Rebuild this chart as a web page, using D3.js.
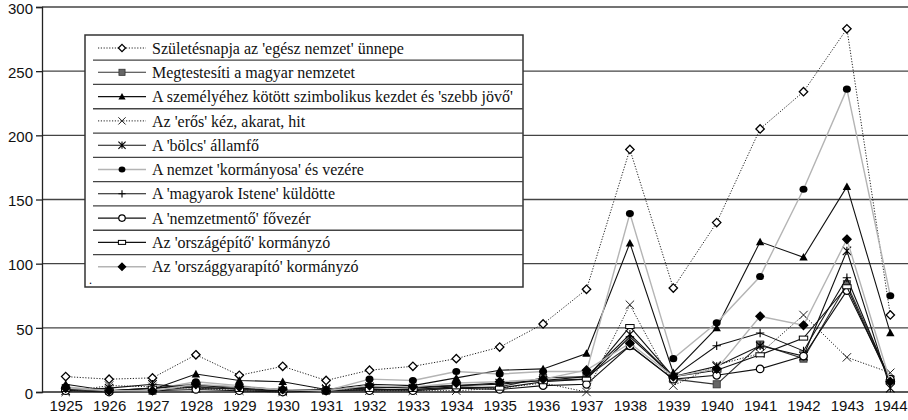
<!DOCTYPE html>
<html>
<head>
<meta charset="utf-8">
<script src="https://cdn.jsdelivr.net/npm/d3@7"></script>
<style>
  body { margin: 0; background: #fff; }
  svg { display: block; font-family: "Liberation Serif", "DejaVu Serif", serif; }
  .tick text { font-size: 15px; fill: #111; }
</style>
</head>
<body>
<svg id="chart" width="908" height="420"></svg>
<script>
// years on the x axis
const years = [1925,1926,1927,1928,1929,1930,1931,1932,1933,1934,1935,1936,1937,1938,1939,1940,1941,1942,1943,1944];
const yTicks = [0,50,100,150,200,250,300];

// values, one list per series
const szuletesnap   = [12,10,11,29,13,20,9,17,20,26,35,53,80,189,81,132,205,234,283,60];
const megtestesiti  = [3,1,1,4,2,1,1,2,2,3,4,11,12,36,10,6,37,26,84,10];
const szimbolikus   = [6,1,2,14,9,8,2,6,5,11,17,18,30,116,15,50,117,105,160,46];
const erosKez       = [0,5,4,3,1,0,3,1,1,1,3,7,0,68,5,21,30,60,27,15];
const bolcs         = [1,3,6,3,3,1,2,4,3,5,7,9,12,45,12,20,36,28,110,3];
const kormanyos     = [4,1,2,8,5,1,1,10,9,16,14,16,16,139,26,54,90,158,236,75];
const istenKuldotte = [2,1,3,5,4,2,2,3,4,5,6,9,10,43,12,36,46,32,89,8];
const nemzetmento   = [1,0,1,2,1,0,1,1,1,3,2,5,6,36,10,13,18,28,79,10];
const orszagepito   = [2,1,3,6,2,1,1,2,2,4,3,8,10,51,12,17,29,42,82,8];
const gyarapito     = [3,1,1,6,4,2,1,5,4,7,8,10,17,38,12,18,59,52,119,8];

const seriesNames = [
  "Születésnapja az 'egész nemzet' ünnepe",
  "Megtestesíti a magyar nemzetet",
  "A személyéhez kötött szimbolikus kezdet és 'szebb jövő'",
  " Az 'erős' kéz, akarat, hit",
  "A 'bölcs' államfő",
  "A nemzet 'kormányosa' és vezére",
  "A 'magyarok Istene' küldötte",
  "A 'nemzetmentő' fővezér",
  "Az 'országépítő' kormányzó",
  "Az 'országgyarapító' kormányzó"
];
const seriesValues = [szuletesnap, megtestesiti, szimbolikus, erosKez, bolcs,
  kormanyos, istenKuldotte, nemzetmento, orszagepito, gyarapito];

// line look + marker kind per series
const styles = [
  {stroke: "#222", dash: "1.2,1.6", width: 1, marker: "diamondOpen"},
  {stroke: "#333", dash: null, width: 1.1, marker: "square"},
  {stroke: "#111", dash: null, width: 1.1, marker: "triangle"},
  {stroke: "#222", dash: "1.2,1.6", width: 1, marker: "x"},
  {stroke: "#111", dash: null, width: 1.1, marker: "asterisk"},
  {stroke: "#b4b4b4", dash: null, width: 1.4, marker: "circle"},
  {stroke: "#111", dash: null, width: 1.1, marker: "plus"},
  {stroke: "#111", dash: null, width: 1.1, marker: "circleOpen"},
  {stroke: "#111", dash: null, width: 1.1, marker: "dash"},
  {stroke: "#b4b4b4", dash: null, width: 1.4, marker: "diamond"}
];

const svg = d3.select("#chart");

const x = d3.scalePoint().domain(years).range([44, 912]).padding(0.5);
const y = d3.scaleLinear().domain([0, 300]).range([392, 7]);

// gridlines
svg.append("g")
  .selectAll("line")
  .data(yTicks.slice(1))
  .enter().append("line")
  .attr("x1", 42).attr("x2", 908)
  .attr("y1", d => y(d)).attr("y2", d => y(d))
  .attr("stroke", "#444").attr("stroke-width", 1.3);

// axes
const yAxis = svg.append("g")
  .attr("transform", "translate(42,0)")
  .call(d3.axisLeft(y).tickValues(yTicks).tickSize(6).tickPadding(3));
yAxis.select(".domain").attr("stroke", "#222").attr("stroke-width", 1.3);
yAxis.selectAll(".tick line").attr("stroke", "#222").attr("stroke-width", 1.3);
yAxis.selectAll(".tick text").attr("dy", "0.42em");

const xAxis = svg.append("g")
  .attr("transform", "translate(0,392)")
  .call(d3.axisBottom(x).tickSize(0).tickPadding(8));
xAxis.select(".domain").remove();
svg.append("line")
  .attr("x1", 42).attr("x2", 908).attr("y1", y(0)).attr("y2", y(0))
  .attr("stroke", "#222").attr("stroke-width", 1.5);

// marker paths, centred on 0,0
function markerShape(g, kind, s) {
  const r = s;
  if (kind === "diamondOpen" || kind === "diamond") {
    g.append("path")
      .attr("d", `M0,${-r}L${r},0L0,${r}L${-r},0Z`)
      .attr("fill", kind === "diamond" ? "#000" : "#fff")
      .attr("stroke", "#000").attr("stroke-width", 1.3);
  } else if (kind === "square") {
    g.append("rect").attr("x", -r * 0.85).attr("y", -r * 0.85)
      .attr("width", r * 1.7).attr("height", r * 1.7)
      .attr("fill", "#666").attr("stroke", "#333").attr("stroke-width", 0.8);
  } else if (kind === "triangle") {
    g.append("path")
      .attr("d", `M0,${-r}L${r},${r * 0.8}L${-r},${r * 0.8}Z`)
      .attr("fill", "#000");
  } else if (kind === "x") {
    g.append("path")
      .attr("d", `M${-r},${-r}L${r},${r}M${-r},${r}L${r},${-r}`)
      .attr("stroke", "#222").attr("stroke-width", 1).attr("fill", "none");
  } else if (kind === "asterisk") {
    g.append("path")
      .attr("d", `M${-r},${-r}L${r},${r}M${-r},${r}L${r},${-r}M0,${-r}L0,${r}`)
      .attr("stroke", "#000").attr("stroke-width", 1.1).attr("fill", "none");
  } else if (kind === "plus") {
    g.append("path")
      .attr("d", `M${-r},0L${r},0M0,${-r}L0,${r}`)
      .attr("stroke", "#000").attr("stroke-width", 1.1).attr("fill", "none");
  } else if (kind === "circle") {
    g.append("ellipse").attr("rx", r * 0.95).attr("ry", r * 0.85).attr("fill", "#000");
  } else if (kind === "circleOpen") {
    g.append("circle").attr("r", r * 0.9)
      .attr("fill", "#fff").attr("stroke", "#000").attr("stroke-width", 1.2);
  } else if (kind === "dash") {
    g.append("rect").attr("x", -r).attr("y", -2).attr("width", 2 * r).attr("height", 4)
      .attr("fill", "#fff").attr("stroke", "#000").attr("stroke-width", 1);
  }
}

const line = d3.line()
  .x((d, i) => x(years[i]))
  .y(d => y(d));

// series, drawn in legend order
seriesValues.forEach((vals, si) => {
  const st = styles[si];
  const g = svg.append("g").attr("class", "series");
  g.append("path")
    .datum(vals)
    .attr("d", line)
    .attr("fill", "none")
    .attr("stroke", st.stroke)
    .attr("stroke-width", st.width)
    .attr("stroke-dasharray", st.dash);
  g.selectAll("g.mk")
    .data(vals)
    .enter().append("g")
    .attr("class", "mk")
    .attr("transform", (d, i) => `translate(${x(years[i])},${y(d)})`)
    .each(function() { markerShape(d3.select(this), st.marker, 4.2); });
});

// legend box
const legend = svg.append("g");
legend.append("rect")
  .attr("x", 85).attr("y", 35).attr("width", 438).attr("height", 252)
  .attr("fill", "#fff").attr("stroke", "#333").attr("stroke-width", 1.5);

const rowStep = 24.3, rowTop = 48;
seriesNames.forEach((name, i) => {
  const st = styles[i];
  const cy = rowTop + i * rowStep;
  if (i > 0) {
    legend.append("line")
      .attr("x1", 93).attr("x2", 523)
      .attr("y1", cy - rowStep / 2).attr("y2", cy - rowStep / 2)
      .attr("stroke", "#444").attr("stroke-width", 1.3);
  }
  legend.append("line")
    .attr("x1", 98).attr("x2", 146).attr("y1", cy).attr("y2", cy)
    .attr("stroke", st.stroke).attr("stroke-width", st.width)
    .attr("stroke-dasharray", st.dash);
  const mg = legend.append("g").attr("transform", `translate(122,${cy})`);
  markerShape(mg, st.marker, 3.6);
  legend.append("text")
    .attr("x", 152).attr("y", cy).attr("dy", "0.35em")
    .style("font-size", "16px").style("fill", "#111")
    .text(name);
});
legend.append("text").attr("x", 89).attr("y", 284)
  .style("font-size", "12px").text(".");
</script>
</body>
</html>
